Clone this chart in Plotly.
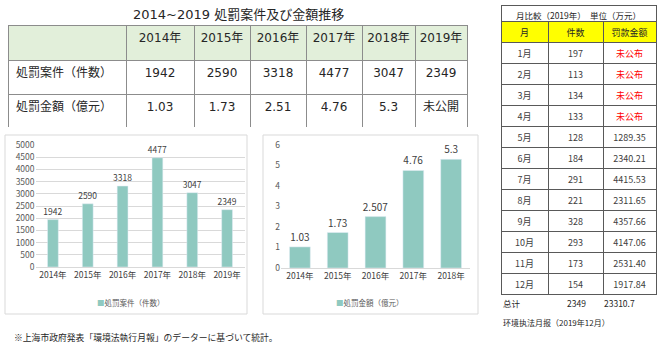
import plotly.graph_objects as go

# ---------------- data ----------------
title_text = "2014~2019 処罰案件及び金額推移"
years = ["2014年", "2015年", "2016年", "2017年", "2018年", "2019年"]
row_labels = ["処罰案件（件数）", "処罰金額（億元）"]
cases = [1942, 2590, 3318, 4477, 3047, 2349]
amounts_table = ["1.03", "1.73", "2.51", "4.76", "5.3", "未公開"]

amount_years = ["2014年", "2015年", "2016年", "2017年", "2018年"]
amounts = [1.03, 1.73, 2.507, 4.76, 5.3]

cases_name = "処罰案件（件数）"
amounts_name = "処罰金額（億元）"

month_title = "月比較（2019年）　単位（万元）"
month_header = ["月", "件数", "罚款金额"]
months = ["1月", "2月", "3月", "4月", "5月", "6月", "7月", "8月", "9月", "10月", "11月", "12月"]
month_cases = [197, 113, 134, 133, 128, 184, 291, 221, 328, 293, 173, 154]
month_amounts = ["未公布", "未公布", "未公布", "未公布", "1289.35", "2340.21", "4415.53",
                 "2311.65", "4357.66", "4147.06", "2531.40", "1917.84"]
total_label = "总计"
total_cases = 2349
total_amount = "23310.7"
source_right = "环境执法月报（2019年12月）"
footnote = "※上海市政府発表「環境法執行月報」のデーターに基づいて統計。"

# ---------------- helpers ----------------
W, H = 670, 350
def X(px): return px / W
def Y(py): return 1 - py / H

JP = "Noto Sans CJK JP"
SC = "Noto Sans CJK SC"
NUM = "DejaVu Sans, Noto Sans CJK JP"
BAR = "#8fc9c0"
TXT = "#262626"

fig = go.Figure()

# ---- top table ----
header_vals = [""] + years
cell_vals = [row_labels] + [[str(c), a] for c, a in zip(cases, amounts_table)]
fig.add_trace(go.Table(
    domain=dict(x=[X(8), X(467)], y=[Y(128), Y(25)]),
    columnwidth=[118, 68, 56, 56, 56, 53, 52],
    header=dict(values=header_vals, height=35, fill_color="#e2efda",
                line=dict(color="#8c8c8c", width=1),
                font=dict(family=NUM, size=12, color=TXT), align="center"),
    cells=dict(values=cell_vals, height=34, fill_color="white",
               line=dict(color="#8c8c8c", width=1),
               font=dict(family=NUM, size=12, color=TXT),
               align=["left"] + ["center"] * 6),
))

# ---- right monthly table ----
fig.add_trace(go.Table(
    domain=dict(x=[X(501), X(656)], y=[Y(21), Y(5)]),
    header=dict(values=[month_title], height=16, fill_color="white",
                line=dict(color="#595959", width=1),
                font=dict(family=SC, size=8.5, color=TXT), align="center"),
    cells=dict(values=[[]]),
))
amount_colors = ["#ff0000" if a == "未公布" else "#404040" for a in month_amounts]
fig.add_trace(go.Table(
    domain=dict(x=[X(501), X(656)], y=[Y(296), Y(21)]),
    columnwidth=[47, 55, 53],
    header=dict(values=month_header, height=21, fill_color="#ffff00",
                line=dict(color="#595959", width=1),
                font=dict(family=SC, size=9, color=TXT), align="center"),
    cells=dict(values=[months, [str(v) for v in month_cases], month_amounts], height=21,
               fill_color="white", line=dict(color="#595959", width=1),
               font=dict(family=SC, size=9,
                         color=[["#404040"] * 12, ["#404040"] * 12, amount_colors]),
               align="center"),
))

# ---- bar charts ----
fig.add_trace(go.Bar(
    x=years, y=cases, name=cases_name, marker_color=BAR, width=0.31,
    text=[str(v) for v in cases], textposition="outside", cliponaxis=False,
    constraintext="none",
    textfont=dict(family=JP, size=8.5, color="#404040"),
    xaxis="x", yaxis="y", showlegend=False,
))
fig.add_trace(go.Bar(
    x=amount_years, y=amounts, name=amounts_name, marker_color=BAR, width=0.55,
    text=[str(v) for v in amounts], textposition="outside", cliponaxis=False,
    constraintext="none",
    textfont=dict(family=JP, size=10, color="#404040"),
    xaxis="x2", yaxis="y2", showlegend=False,
))

tickfont = dict(family=JP, size=8.5, color="#595959")
xtickfont = dict(family=JP, size=8.5, color="#404040")
fig.update_layout(
    width=W, height=H, margin=dict(l=0, r=0, t=0, b=0, autoexpand=False),
    paper_bgcolor="white", plot_bgcolor="white",
    xaxis=dict(domain=[X(35.5), X(244.5)], anchor="y", showgrid=False, automargin=False,
               showline=True, linecolor="#d9d9d9", tickfont=xtickfont, ticks=""),
    yaxis=dict(domain=[Y(267), Y(145)], anchor="x", range=[0, 5000], dtick=500, automargin=False,
               showgrid=True, gridcolor="#d9d9d9", zeroline=False, tickfont=tickfont,
               showline=False, ticks=""),
    xaxis2=dict(domain=[X(281), X(470)], anchor="y2", showgrid=False, automargin=False,
                showline=True, linecolor="#d9d9d9", tickfont=xtickfont, ticks=""),
    yaxis2=dict(domain=[Y(268), Y(145)], anchor="x2", range=[0, 6], dtick=1, automargin=False,
                showgrid=False, zeroline=False, tickfont=tickfont, showline=False, ticks=""),
    showlegend=False,
)

# chart frames
for x0, x1 in [(5, 247), (263, 478)]:
    fig.add_shape(type="rect", xref="paper", yref="paper", x0=X(x0), x1=X(x1),
                  y0=Y(314), y1=Y(135), line=dict(color="#d9d9d9", width=1), layer="below")

def note(text, x, y, anchor="center", font=None):
    fig.add_annotation(text=text, x=X(x), y=Y(y), xref="paper", yref="paper",
                       xanchor=anchor, yanchor="middle", showarrow=False,
                       font=font or dict(family=SC, size=8.5, color=TXT))

# legends (square marker + series name)
note(f"<span style='color:{BAR}'>■</span>{cases_name}", 131, 302,
     font=dict(family=JP, size=7.5, color="#595959"))
note(f"<span style='color:{BAR}'>■</span>{amounts_name}", 370, 302,
     font=dict(family=JP, size=7.5, color="#595959"))

# texts
note(title_text, 238, 14, font=dict(family=NUM, size=13, color=TXT))
note(total_label, 501, 303, anchor="left")
note(str(total_cases), 576, 303)
note(total_amount, 619, 303)
note(source_right, 501, 322, anchor="left", font=dict(family=SC, size=8, color=TXT))
note(footnote, 12, 337, anchor="left", font=dict(family=JP, size=8.8, color=TXT))

fig.write_html("out.html")
